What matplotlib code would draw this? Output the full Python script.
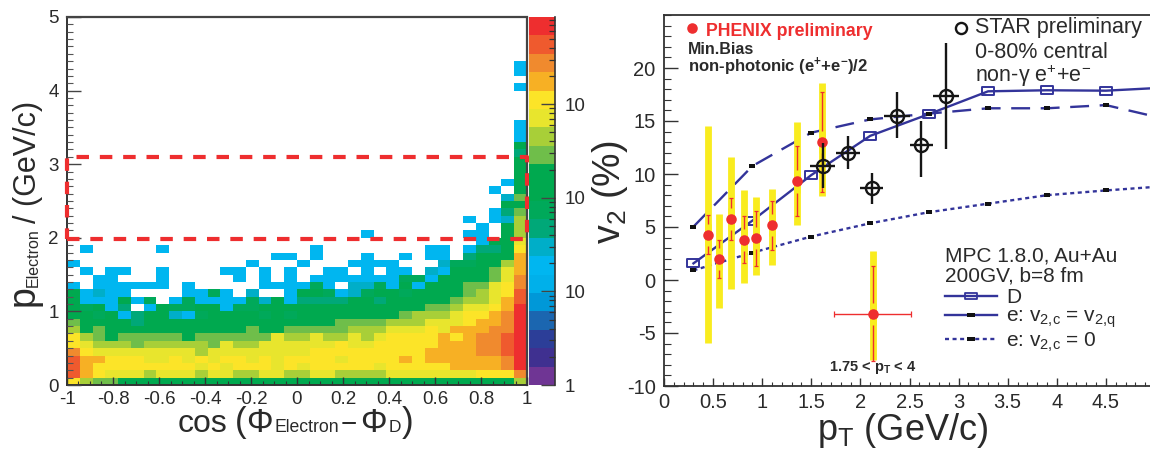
import numpy as np
import matplotlib
matplotlib.use("Agg")
import matplotlib.pyplot as plt
from matplotlib.colors import ListedColormap, BoundaryNorm
from matplotlib.lines import Line2D
from matplotlib.path import Path
from matplotlib.ticker import MultipleLocator, FixedLocator, NullFormatter

plt.rcParams['font.family'] = ['Liberation Sans', 'DejaVu Sans']
plt.rcParams['mathtext.fontset'] = 'custom'
plt.rcParams['mathtext.rm'] = 'Liberation Sans'
plt.rcParams['mathtext.it'] = 'Liberation Sans'
plt.rcParams['mathtext.bf'] = 'Liberation Sans:bold'
plt.rcParams['mathtext.default'] = 'regular'

# ---- left panel: histogram levels (base-20 digit per bin, '.' = empty)
LEVEL_COLORS = ['#6F3594', '#3F3090', '#2C3E98', '#1B66B0', '#0098D8',
                '#00B0EA', '#00B6F0', '#00AEC8', '#00A878', '#00A95A',
                '#00A94F', '#00A94F', '#6FBE4A', '#A8CF38', '#E8E52D',
                '#FCE428', '#F7B024', '#F08A2E', '#EF5A2E', '#EE2E2F']
HEAT_LOWER = [
    "fdcc" + "a" * 31 + "d",
    "igfeeedeeedeeddeedd" + "eedddd" + "eeeeeee" + "fff" + "h",
    "ig" + "ffffffff" + "e" + "f" + "e" + "fff" + "e" + "f" + "e" + "fffff" + "e" + "fffff" + "gggg" + "h" + "j",
    "igg" + "fff" + "ee" + "f" + "e" + "f" + "e" + "ff" + "e" + "f" + "e" + "ff" + "ff" + "e" + "ffff" + "g" + "f" + "gggggg" + "h" + "j",
    "hf" + "eeeeeeee" + "d" + "eeeeeeee" + "fffffffff" + "gggg" + "hh" + "i" + "j",
    "fedddcdddddcedd" + "eeee" + "eefeefffffggghhij",
    "fdca" + "ccccc" + "a" + "cccccc" + "e" + "dd" + "e" + "dd" + "e" + "d" + "e" + "ffff" + "g" + "f" + "g" + "hh" + "i" + "j",
    "dac" + "aaaaaaaaaaa" + "c" + "aa" + "cc" + "ccc" + "ddd" + "eee" + "f" + "e" + "ggg" + "hh" + "j",
    "ca" + "aaa" + "8" + "aaaaaaaaaaaa" + "aaa" + "cccc" + "ddd" + "eee" + "f" + "gg" + "h" + "j",
    "aa9a" + "6" + "8" + "aa" + "7" + "6" + "9" + "aaaa" + "9" + "a" + "9" + "a" + "aaaaaaa" + "c" + "ddd" + "e" + "ff" + "g" + "h" + "j",
    "a9a6" + "8" + "." + "6" + "a" + "99" + "aa" + "6" + "99" + "aaaa" + "aaaaaaaaa" + "cc" + "d" + "ee" + "f" + "g" + "j",
    "a666" + "a" + "6" + "9" + "." + "6" + "9" + "6666" + "9" + "7" + "a" + "6" + "8" + "888" + "aa" + "8" + "aaaaa" + "c" + "dd" + "e" + "g" + "i",
    "a6766" + "...." + "66" + "9" + "6" + "." + "7" + ".." + "6" + "a" + "a" + "9" + "6" + "7" + "9" + "aa" + "9" + "aaaa" + "c" + "d" + "e" + "f" + "i",
    "6.666666" + "." + "6" + "....." + "666" + "6" + "9" + "6" + "." + "77" + "9" + "6" + "a" + "6" + "aaa" + "cc" + "e" + "f" + "h",
    "..66...6.....6.6.6." + "6666666" + "99" + "6" + "aaaa" + "c" + "e" + "h",
    ".6.66..6....66.6.6." + ".66.6.66.76aaa" + "c" + "e" + "g",
]
HEAT_UPPER = {
    16: {0: '6', 14: '6', 18: '6', 22: '6', 23: '6', 24: '6', 25: '6', 29: '7', 30: '9', 31: '9', 32: 'a', 33: 'a', 34: 'd', 35: 'g'},
    17: {16: '6', 17: '6', 19: '6', 23: '6', 26: '6', 28: '6', 29: '6', 31: '8', 32: 'a', 33: 'a', 34: 'a', 35: 'g'},
    18: {1: '6', 7: '6', 19: '6', 28: '6', 29: '6', 31: '6', 32: '8', 33: '8', 34: 'a', 35: 'f'},
    19: {32: '6', 33: 'a', 34: 'a', 35: 'e'},
    20: {23: '6', 31: '6', 32: '6', 34: 'a', 35: 'd'},
    21: {32: '6', 34: 'a', 35: 'd'},
    22: {31: '6', 33: '6', 34: '7', 35: 'd'},
    23: {33: '6', 34: '8', 35: 'c'},
    24: {34: 'a', 35: 'a'},
    25: {34: '7', 35: 'c'},
    26: {33: '6', 35: 'a'},
    27: {34: '6', 35: 'a'},
    28: {35: 'a'}, 29: {35: 'a'}, 30: {35: 'a'}, 31: {35: '8'}, 32: {35: 'a'},
    33: {35: '6'}, 34: {35: '6'}, 35: {35: '6'}, 40: {35: '6'},
    42: {35: '6'}, 43: {35: '6'},
}
BAND_P = [1.98, 3.10]

# ---- right panel: data
PHENIX_X = [0.445, 0.56, 0.682, 0.81, 0.933, 1.10, 1.354, 1.605]
PHENIX_Y = [4.27, 1.98, 5.78, 3.8, 3.93, 5.2, 9.3, 13.0]
PHENIX_SYS_HI = [14.5, 6.2, 11.6, 8.5, 7.8, 8.6, 14.9, 18.6]
PHENIX_SYS_LO = [-5.9, -2.6, -0.85, -0.3, 0.5, 1.4, 5.2, 7.9]
PHENIX_STAT_HI = [6.1, 3.8, 7.7, 6.0, 6.5, 7.5, 12.6, 17.7]
PHENIX_STAT_LO = [2.45, 0.2, 3.8, 1.6, 1.3, 2.85, 6.0, 8.3]
BIN_X, BIN_Y = 2.13, -3.2
BIN_X_LO, BIN_X_HI = 1.735, 2.515
BIN_SYS = (-7.55, 2.7)
BIN_STAT = (-7.6, 1.3)

STAR_X = [1.624, 1.87, 2.12, 2.37, 2.617, 2.867]
STAR_Y = [10.8, 12.0, 8.65, 15.5, 12.75, 17.4]
STAR_Y_HI = [12.9, 13.6, 10.1, 17.7, 15.0, 22.4]
STAR_Y_LO = [8.7, 10.5, 7.2, 13.4, 9.7, 12.4]
STAR_X_LO = [1.49, 1.75, 2.0, 2.24, 2.5, 2.74]
STAR_X_HI = [1.74, 2.0, 2.235, 2.5, 2.735, 3.0]

MODEL_X = [0.3, 0.9, 1.5, 2.1, 2.7, 3.3, 3.9, 4.5, 5.1]
D_V2 = [1.57, 5.6, 9.9, 13.6, 15.66, 17.8, 17.9, 17.86, 18.15]
E_V2Q = [5.03, 10.75, 13.9, 15.15, 15.7, 16.2, 16.2, 16.5, 15.2]
E_ZERO = [0.91, 2.58, 4.1, 5.35, 6.4, 7.2, 8.0, 8.45, 8.85]

RED = '#EE2E2F'
YELLOW = '#F9EC1F'
BLUE = '#33349A'
INK = '#2A2A2A'
W, H = 1150, 450


def axpx(x0, y_top, x1, y_bot):
    return [x0 / W, 1 - y_bot / H, (x1 - x0) / W, (y_bot - y_top) / H]


def txt(x, y, s, **kw):
    kw.setdefault('color', INK)
    kw.setdefault('va', 'center')
    return fig.text(x / W, 1 - y / H, s, **kw)


def base(x, y, s, size, rotation=0):
    return fig.text(x / W, 1 - y / H, s, fontsize=size, color=INK, ha='left', va='baseline',
                    rotation=rotation, rotation_mode='anchor')


fig = plt.figure(figsize=(11.5, 4.5), dpi=100, facecolor='white')

# ------------------------------------------------------------ heat map
n_x, n_y = 36, 50
grid = np.full((n_y, n_x), np.nan)
for r, s in enumerate(HEAT_LOWER):
    for c, ch in enumerate(s):
        if ch != '.':
            grid[r, c] = int(ch, 20)
for r, cells in HEAT_UPPER.items():
    for c, ch in cells.items():
        grid[r, c] = int(ch, 20)
cmap = ListedColormap(LEVEL_COLORS)
cmap.set_bad('white')
norm = BoundaryNorm(np.arange(-0.5, 20.5), 20)

ax = fig.add_axes(axpx(67, 17, 527, 385))
ax.pcolormesh(np.linspace(-1, 1, n_x + 1), np.linspace(0, 5, n_y + 1),
              np.ma.masked_invalid(grid), cmap=cmap, norm=norm, zorder=1)
ax.set_xlim(-1, 1)
ax.set_ylim(0, 5)
ax.xaxis.set_major_locator(MultipleLocator(0.2))
ax.xaxis.set_minor_locator(MultipleLocator(0.05))
ax.yaxis.set_major_locator(MultipleLocator(1))
ax.yaxis.set_minor_locator(MultipleLocator(0.1))
ax.tick_params(axis='x', which='major', direction='in', length=6, width=1.0, color='#333333',
               labelsize=13.5, labelcolor=INK, pad=4)
ax.tick_params(axis='x', which='minor', direction='in', length=3, width=0.8, color='#333333')
ax.tick_params(axis='y', which='major', direction='in', length=10, width=1.0, color='#444444',
               labelsize=13.5, labelcolor=INK, pad=6)
ax.tick_params(axis='y', which='minor', direction='in', length=4.5, width=0.8, color='#555555')
ax.set_axisbelow(False)
ax.set_xticks(np.arange(-1, 1.01, 0.2))
ax.set_xticklabels(['-1', '-0.8', '-0.6', '-0.4', '-0.2', '0', '0.2', '0.4', '0.6', '0.8', '1'])
for side in ('top', 'right'):
    ax.spines[side].set_linestyle((0, (1, 1)))
    ax.spines[side].set_linewidth(1.6)
    ax.spines[side].set_color('#444444')
for side in ('left', 'bottom'):
    ax.spines[side].set_linewidth(1.4)
    ax.spines[side].set_color('#333333')
ax.plot([-1, 1, 1, -1, -1], [BAND_P[0], BAND_P[0], BAND_P[1], BAND_P[1], BAND_P[0]],
        color=RED, lw=3.0, dashes=(3.0, 2.6), clip_on=False, zorder=6,
        solid_capstyle='butt', dash_capstyle='butt')

# composed axis titles: the subscripts are much smaller than the 0.7 that mathtext gives
base(34, 306, 'p', 27, rotation=90)
base(38, 287, 'Electron', 11.5, rotation=90)
base(36, 223, '/ (GeV/c)', 22, rotation=90)

base(178, 432, 'cos', 23)
base(235, 432, '(', 25)
base(246, 432, '\u03a6', 24)
base(274, 432, 'Electron', 12.7)
base(341, 432, '\u2212', 20)
base(360, 432, '\u03a6', 24)
base(389, 432, 'D', 12.5)
base(402, 432, ')', 25)

# ------------------------------------------------------------ colour bar
cax = fig.add_axes(axpx(529, 17, 554.5, 385))
decades = 368 / 93.6
edges = np.logspace(0, decades, 21)
cax.pcolormesh([0, 1], edges, np.arange(20).reshape(-1, 1), cmap=cmap, norm=norm)
cax.set_yscale('log')
cax.set_ylim(1, 10 ** decades)
cax.set_xlim(0, 1)
cax.set_xticks([])
cax.yaxis.tick_right()
cax.yaxis.set_major_locator(FixedLocator([1, 10, 100, 1000]))
cax.yaxis.set_minor_locator(FixedLocator([m * 10 ** d for d in range(4) for m in range(2, 10)
                                          if m * 10 ** d < 10 ** decades]))
cax.yaxis.set_minor_formatter(NullFormatter())
cax.set_yticklabels(['1', '10', '10', '10'])
cax.tick_params(axis='y', which='major', direction='in', length=10, width=1.0, color='#444444',
                labelsize=13.5, labelcolor=INK, pad=7)
cax.tick_params(axis='y', which='minor', direction='in', length=4.5, width=0.9, color='#333333')
for side in ('top', 'left', 'bottom'):
    cax.spines[side].set_visible(False)
cax.spines['right'].set_linewidth(1.2)
cax.spines['right'].set_color('#333333')

# ------------------------------------------------------------ v2 panel
bx = fig.add_axes(axpx(664, 15, 1150, 386))
bx.set_xlim(0, 486 / 98.2)
bx.set_ylim(-10, 25)

box_open = Path([(-1.7, -1), (1.7, -1), (1.7, 1), (-1.7, 1), (-1.7, -1)], closed=True)
bx.plot(MODEL_X, D_V2, color=BLUE, lw=1.7, marker=box_open, ms=8.6, mfc='none', mew=1.4, zorder=2)
bx.plot(MODEL_X, E_V2Q, color=BLUE, lw=1.7, dashes=(8, 4.5), marker=box_open, ms=4.4, mfc='#111111',
        mec='#111111', mew=0, zorder=2)
bx.plot(MODEL_X, E_ZERO, color=BLUE, lw=1.7, dashes=(1.7, 1.5), marker=box_open, ms=4.4, mfc='#111111',
        mec='#111111', mew=0, zorder=2)

bx.vlines(PHENIX_X, PHENIX_SYS_LO, PHENIX_SYS_HI, color=YELLOW, lw=4.9, zorder=3)
bx.vlines([BIN_X], [BIN_SYS[0]], [BIN_SYS[1]], color=YELLOW, lw=4.9, zorder=3)
all_x = PHENIX_X + [BIN_X]
all_y = PHENIX_Y + [BIN_Y]
all_lo = PHENIX_STAT_LO + [BIN_STAT[0]]
all_hi = PHENIX_STAT_HI + [BIN_STAT[1]]
bx.errorbar(all_x, all_y,
            yerr=[np.array(all_y) - np.array(all_lo), np.array(all_hi) - np.array(all_y)],
            fmt='none', ecolor=RED, elinewidth=1.0, capsize=1.4, capthick=0.9, zorder=4)
bx.vlines(all_x, np.array(all_y) - 1.05, np.array(all_y) + 1.05, color=YELLOW, lw=4.9, zorder=4.2)
bx.errorbar([BIN_X], [BIN_Y], xerr=[[BIN_X - BIN_X_LO], [BIN_X_HI - BIN_X]], fmt='none',
            ecolor=RED, elinewidth=1.0, capsize=2.5, capthick=0.9, zorder=4.1)
bx.plot(all_x, all_y, 'o', color=RED, ms=7.6, mew=0, zorder=4.5)

sx = np.array(STAR_X)
sy = np.array(STAR_Y)
bx.errorbar(sx, sy, yerr=[sy - np.array(STAR_Y_LO), np.array(STAR_Y_HI) - sy],
            xerr=[sx - np.array(STAR_X_LO), np.array(STAR_X_HI) - sx],
            fmt='o', ms=9.4, mfc='none', mec='#151515', mew=1.7, ecolor='#151515', elinewidth=1.7, zorder=5)

bx.xaxis.set_minor_locator(MultipleLocator(0.1))
bx.yaxis.set_minor_locator(MultipleLocator(1))
bx.set_yticks([-10, -5, 0, 5, 10, 15, 20])
bx.set_yticklabels(['-10', '-5', '0', '5', '10', '15', '20'])
bx.set_xticks(np.arange(0, 4.6, 0.5))
bx.set_xticklabels(['0', '0.5', '1', '1.5', '2', '2.5', '3', '3.5', '4', '4.5'])
bx.tick_params(which='major', direction='in', length=10, width=1.0, color='#333333',
               labelsize=14.5, labelcolor=INK)
bx.tick_params(axis='x', which='major', length=6, pad=5)
bx.tick_params(axis='y', which='major', pad=6)
bx.tick_params(axis='x', which='minor', direction='in', length=3, width=0.8, color='#333333')
bx.tick_params(axis='y', which='minor', direction='in', length=5, width=0.8, color='#333333')
bx.spines['right'].set_visible(False)
for side in ('left', 'bottom', 'top'):
    bx.spines[side].set_linewidth(1.3)
    bx.spines[side].set_color('#333333')

txt(610, 192, r'$v_{2}$ (%)', fontsize=27, rotation=90, ha='center')
txt(903, 430, r'$p_{T}$ (GeV/c)', fontsize=26, ha='center')

fig.add_artist(Line2D([692 / W], [1 - 28 / H], marker='o', color=RED, ms=7.6, mew=0, ls='none'))
fig.add_artist(Line2D([961 / W], [1 - 28 / H], marker='o', mfc='none', mec='#151515', ms=8, mew=1.7, ls='none'))
txt(706, 32, 'PHENIX preliminary', fontsize=12.8, color=RED, fontweight='bold')
txt(688, 50, 'Min.Bias', fontsize=11.5, fontweight='bold')
txt(688, 67, r'non-photonic (e$\mathbf{^{+}}$+e$\mathbf{^{-}}$)/2', fontsize=12, fontweight='bold')
txt(975, 28, 'STAR preliminary', fontsize=15.5)
txt(975, 52, '0-80% central', fontsize=15.5)
txt(975, 76, r'non-$\gamma$ e$^{+}$+e$^{-}$', fontsize=15.5)
txt(945, 256, 'MPC 1.8.0, Au+Au', fontsize=15)
txt(945, 276, '200GV, b=8 fm', fontsize=15)
txt(873, 367, r'1.75 < p$\mathbf{_{T}}$ < 4', fontsize=10.5, fontweight='bold', ha='center')

handles = [
    Line2D([], [], color=BLUE, lw=1.7, marker=box_open, ms=8.0, mfc='none', mew=1.3),
    Line2D([], [], color=BLUE, lw=1.7, marker=box_open, ms=6.0, mfc='#111111', mec='#111111', mew=0),
    Line2D([], [], color=BLUE, lw=1.7, dashes=(1.7, 1.5), marker=box_open, ms=6.0, mfc='#111111',
           mec='#111111', mew=0),
]
leg = bx.legend(handles, ['D', r'e: v$_{2{,}c}$ = v$_{2{,}q}$', r'e: v$_{2{,}c}$ = 0'], frameon=False,
                loc='upper left', bbox_to_anchor=(947 / W - 0.002, 1 - 288 / H), bbox_transform=fig.transFigure,
                fontsize=15, handlelength=2.5, handletextpad=0.45, labelspacing=0.0,
                borderpad=0, borderaxespad=0, labelcolor=INK, numpoints=1)

fig.savefig('out.png', dpi=100)
